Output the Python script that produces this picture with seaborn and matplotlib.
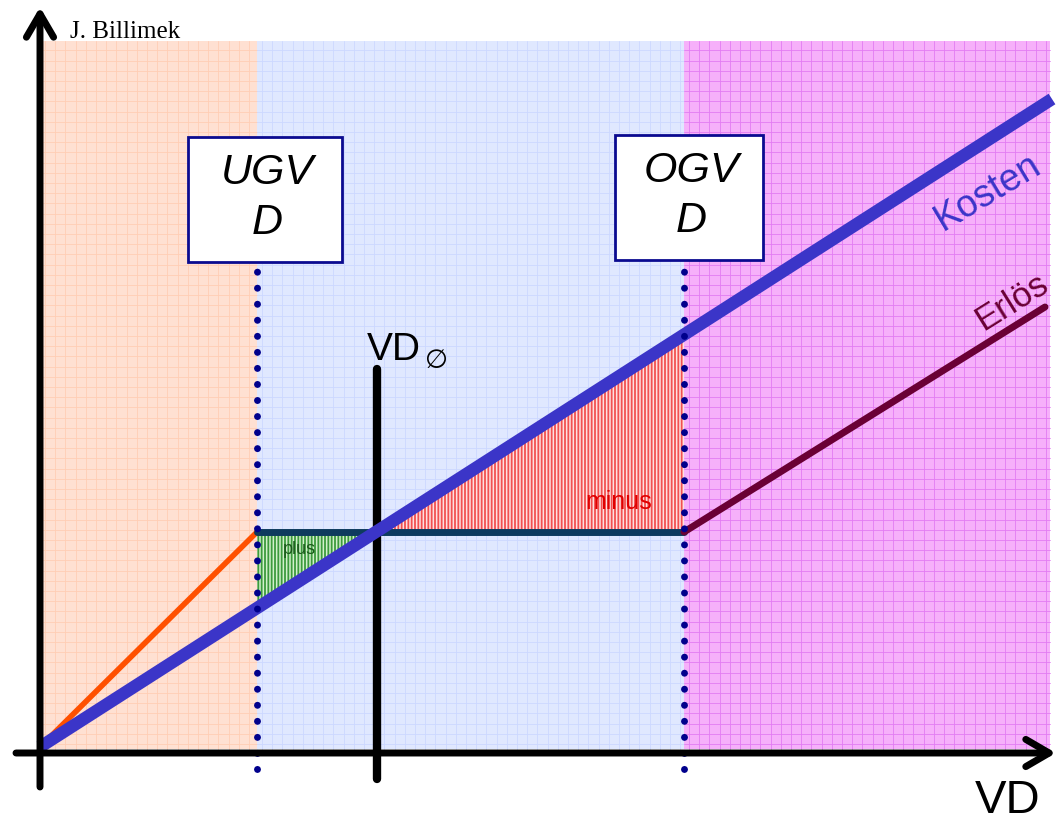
import numpy as np
import pandas as pd
import matplotlib
matplotlib.use("Agg")
import matplotlib.pyplot as plt
from matplotlib.patches import Rectangle
import seaborn as sns

# ---- data (diagram units, origin at axis crossing) ----
ugvd_x = 217          # lower limit (UGVD)
vd_avg_x = 337        # average VD
ogvd_x = 644          # upper limit (OGVD)
x_end = 1012
erloes_level = 217
kosten_x = [0, 1012]
kosten_y = [2, 650]
erloes_low_x = [0, 217]
erloes_low_y = [2, 217]
erloes_mid_x = [217, 644]
erloes_mid_y = [217, 217]
erloes_high_x = [644, 1005]
erloes_high_y = [217, 442]
region_edges = [0, 217, 644, 1010]
region_top = 708
region_colors = ["#ffe0d2", "#e0e8ff", "#f6b0fa"]
region_grid_colors = ["#ffcdb5", "#ccd8ff", "#e27cf2"]

sns.set_theme(style="white")
plt.rcParams['font.family'] = ['Liberation Sans', 'DejaVu Sans']
plt.rcParams['text.color'] = 'black'
plt.rcParams['hatch.linewidth'] = 1.3

fig = plt.figure(figsize=(10.57, 8.28), dpi=100)
ax = fig.add_axes([0, 0, 1, 1])
ax.set_xlim(-40, 1017)
ax.set_ylim(-78, 750)
ax.axis("off")

# background regions with fine grid
for i in range(3):
    x0, x1 = region_edges[i], region_edges[i + 1]
    ax.fill_between([x0, x1], 0, region_top, color=region_colors[i], zorder=0, lw=0)
    for gx in np.arange(x0 + 5, x1, 10.2):
        ax.plot([gx, gx], [0, region_top], color=region_grid_colors[i], lw=0.6, zorder=0.5)
    for gy in np.arange(5, region_top, 10.2):
        ax.plot([x0, x1], [gy, gy], color=region_grid_colors[i], lw=0.6, zorder=0.5)

def kosten_at(x):
    return np.interp(x, kosten_x, kosten_y)

# plus area (green hatch)
x_cross = np.interp(erloes_level, kosten_y, kosten_x)
xs = np.array([ugvd_x, x_cross])
ax.fill_between(xs, kosten_at(xs), erloes_level, facecolor="#d2f0cc", edgecolor="#3c9a3c",
                hatch="|||||", lw=0, zorder=1)
# minus area (red hatch)
xs2 = np.array([x_cross, ogvd_x])
ax.fill_between(xs2, erloes_level, kosten_at(xs2), facecolor="#ffe0e0", edgecolor="#f25050",
                hatch="|||||", lw=0, zorder=1)

# lines via seaborn
sns.lineplot(x=erloes_low_x, y=erloes_low_y, ax=ax, color="#ff5000", lw=4, zorder=3)
sns.lineplot(x=erloes_mid_x, y=erloes_mid_y, ax=ax, color="#0e3b5e", lw=5, zorder=3)
sns.lineplot(x=erloes_high_x, y=erloes_high_y, ax=ax, color="#6a0035", lw=5, zorder=3)
sns.lineplot(x=kosten_x, y=kosten_y, ax=ax, color="#3b35c8", lw=9, zorder=4,
             solid_capstyle="butt")

# VD average vertical line
ax.plot([vd_avg_x, vd_avg_x], [-30, 380], color="black", lw=6, zorder=3)
ax.text(vd_avg_x - 10, 382, "VD", fontsize=28, ha="left", va="bottom", zorder=6)
ax.text(vd_avg_x + 48, 376, "∅", fontsize=19, ha="left", va="bottom", zorder=6,
        family=['DejaVu Sans'])

# dotted limit lines
for xv in [ugvd_x, ogvd_x]:
    ax.plot([xv, xv], [-20, 485], color="#00008c", lw=5, ls=(0, (0.01, 2.3)),
            dash_capstyle="round", zorder=5)

# boxes
for cx, cy, w, h, label in [(225, 550, 154, 125, "UGV\nD"), (649, 552, 148, 125, "OGV\nD")]:
    ax.add_patch(Rectangle((cx - w / 2, cy - h / 2), w, h, fc="white", ec="#0a0a90",
                           lw=2, zorder=7))
    ax.text(cx + 2, cy + 2, label, fontsize=31, style="italic", ha="center", va="center",
            linespacing=1.3, zorder=8)

# axes with arrows
ax.annotate("", xy=(0, 742), xytext=(0, -38),
            arrowprops=dict(arrowstyle="->,head_length=0.6,head_width=0.35", lw=5, color="black",
                            shrinkA=0, shrinkB=0, mutation_scale=28), zorder=8)
ax.annotate("", xy=(1016, -4), xytext=(-24, -4),
            arrowprops=dict(arrowstyle="->,head_length=0.6,head_width=0.35", lw=5, color="black",
                            shrinkA=0, shrinkB=0, mutation_scale=28), zorder=8)

# labels
ax.text(968, -63, "VD", fontsize=34, ha="center", va="baseline")
ax.text(30, 718, "J. Billimek", fontsize=18, family=["Liberation Serif"], ha="left", va="center")
ax.text(948, 558, "Kosten", fontsize=27, color="#3b35c8", rotation=31, ha="center", va="center")
ax.text(972, 448, "Erlös", fontsize=25, color="#6a0035", rotation=32, ha="center", va="center")
ax.text(579, 248, "minus", fontsize=18, color="#e00000", ha="center", va="center", zorder=6)
ax.text(259, 201, "plus", fontsize=13, color="#1a5a1a", ha="center", va="center", zorder=6)

fig.savefig("out.png", dpi=100)
